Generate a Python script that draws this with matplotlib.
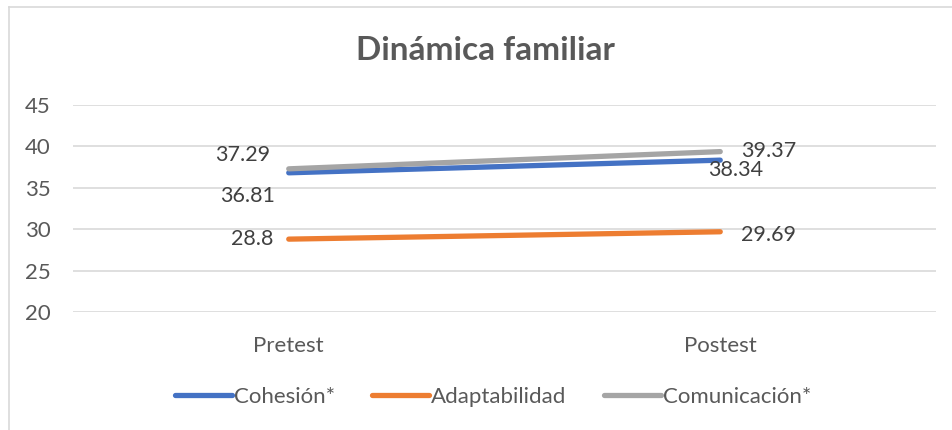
import matplotlib.pyplot as plt
from matplotlib.lines import Line2D

# data
categories = ["Pretest", "Postest"]
series_names = ["Cohesión*", "Adaptabilidad", "Comunicación*"]
cohesion = [36.81, 38.34]
adaptabilidad = [28.8, 29.69]
comunicacion = [37.29, 39.37]
y_ticks = [20, 25, 30, 35, 40, 45]

colors = ["#4472C4", "#ED7D31", "#A5A5A5"]
# label offsets in pixels (pre, post) for each series
offsets = [[(-14, -23), (-12, -10)],
           [(-15, 0), (21, -3)],
           [(-19, 14), (21, 1)]]
aligns = [["right", "left"], ["right", "left"], ["right", "left"]]

plt.rcParams['font.family'] = ['Lato', 'DejaVu Sans']

fig = plt.figure(figsize=(9.52, 4.30), dpi=100)
W, H = 952, 430

# chart border (left / top edges visible)
fig.add_artist(Line2D([9 / W, 9 / W], [0, 1 - 7 / H], color="#D9D9D9", lw=1.2))
fig.add_artist(Line2D([9 / W, 1], [1 - 7 / H, 1 - 7 / H], color="#D9D9D9", lw=1.2))

ax = fig.add_axes([73 / W, (H - 312) / H, 863 / W, 207 / H])
x = [0, 1]
data = [cohesion, adaptabilidad, comunicacion]
for i, vals in enumerate(data):
    ax.plot(x, vals, color=colors[i], lw=3.8, solid_capstyle="round", label=series_names[i], zorder=3)
    for j, v in enumerate(vals):
        ax.annotate(str(v), (x[j], v), xytext=offsets[i][j], textcoords="offset pixels",
                    ha=aligns[i][j], va="center", fontsize=15.5, color="#404040")

ax.set_xlim(-0.5, 1.5)
ax.set_ylim(20, 45)
ax.set_yticks(y_ticks)
ax.set_xticks(x)
ax.set_xticklabels(categories)
ax.grid(axis="y", color="#D9D9D9", lw=1.2)
ax.set_axisbelow(True)
for s in ax.spines.values():
    s.set_visible(False)
ax.tick_params(length=0, labelsize=16, labelcolor="#595959")
ax.tick_params(axis="y", pad=16)
ax.tick_params(axis="x", pad=17)

fig.text(485 / W, 1 - 50 / H, "Dinámica familiar", ha="center", va="center",
         fontsize=24, fontweight="bold", color="#595959")

leg = fig.legend(loc="center", bbox_to_anchor=(493 / W, 1 - 397 / H), ncol=3, frameon=False,
                 fontsize=16, handlelength=2.56, handletextpad=0.1, columnspacing=1.67)
for t in leg.get_texts():
    t.set_color("#595959")

fig.savefig("out.png", dpi=100)
